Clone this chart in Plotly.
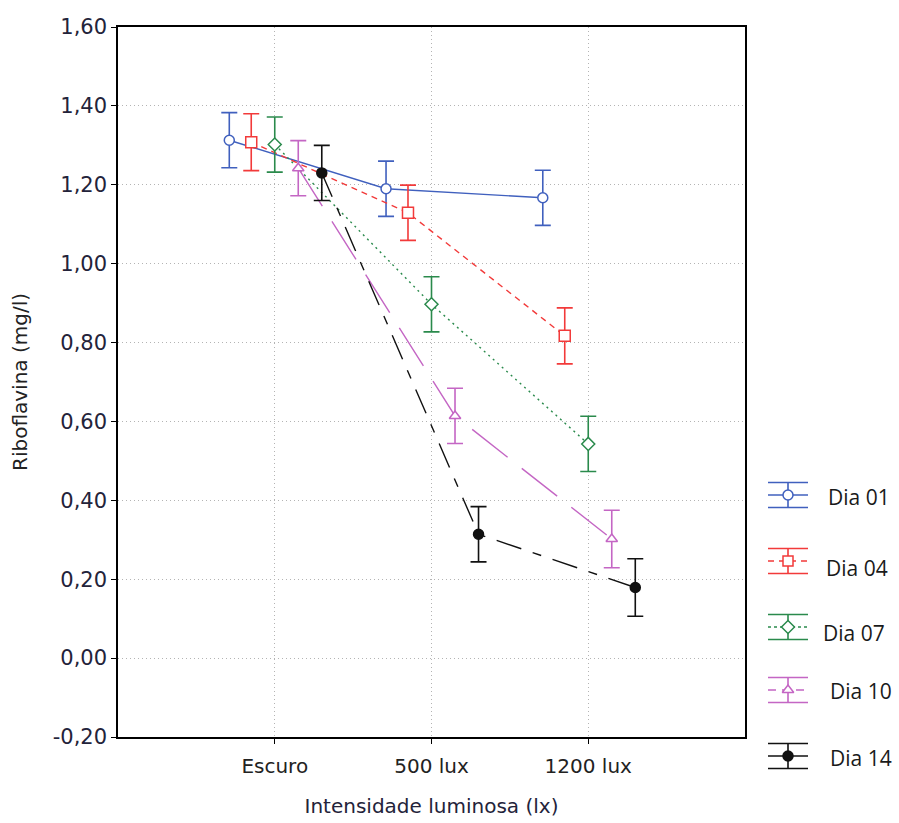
import plotly.graph_objects as go

# Light intensity categories and measured riboflavin (mg/l), mean and half-width of error bar
categories = ["Escuro", "500 lux", "1200 lux"]
series_names = ["Dia 01", "Dia 04", "Dia 07", "Dia 10", "Dia 14"]

dia01 = [1.313, 1.190, 1.167]
dia01_err = [0.070, 0.070, 0.070]
dia04 = [1.308, 1.129, 0.817]
dia04_err = [0.072, 0.070, 0.071]
dia07 = [1.302, 0.897, 0.543]
dia07_err = [0.070, 0.070, 0.070]
dia10 = [1.242, 0.614, 0.302]
dia10_err = [0.070, 0.070, 0.073]
dia14 = [1.230, 0.314, 0.179]
dia14_err = [0.070, 0.070, 0.073]

y_ticks = [-0.20, 0.00, 0.20, 0.40, 0.60, 0.80, 1.00, 1.20, 1.40, 1.60]
y_tick_labels = ["-0,20", "0,00", "0,20", "0,40", "0,60", "0,80", "1,00", "1,20", "1,40", "1,60"]

values = [dia01, dia04, dia07, dia10, dia14]
errors = [dia01_err, dia04_err, dia07_err, dia10_err, dia14_err]

# styling per series: colour, dash pattern, marker symbol, fill, horizontal dodge
colors = ["#4060BE", "#F23A3A", "#2A8A4C", "#C466C4", "#111111"]
dashes = ["solid", "6px,5px", "2px,4px", "45px,18px", "26px,12px,9px,12px"]
legend_dashes = ["solid", "6px,5px", "3px,3px", "8px,6px", "solid"]
symbols = ["circle", "square", "diamond", "triangle-up", "circle"]
fills = ["white", "white", "white", "white", "#111111"]
dodge = [-0.29, -0.15, 0.0, 0.15, 0.30]

W, H = 899, 823
ML, MR, MT, MB = 118, 4, 27, 36
paper_w = W - ML - MR
paper_h = H - MT - MB
plot_right = 745
plot_bottom = 737
x_dom_end = (plot_right - ML) / paper_w
y_dom_start = (H - MB - plot_bottom) / paper_h

text_col = "#23233a"
sans = "DejaVu Sans, Verdana, sans-serif"

fig = go.Figure()

for name, vals, errs, col, dash, sym, fill, dx in zip(series_names, values, errors, colors, dashes, symbols, fills, dodge):
    xs = [i + dx for i in range(len(categories))]
    fig.add_trace(go.Scatter(
        x=xs, y=vals, name=name, mode="lines+markers",
        line=dict(color=col, width=1.4, dash=dash),
        marker=dict(symbol=sym, size=10 if sym != "square" else 11,
                    color=fill, line=dict(color=col, width=1.5)),
        error_y=dict(type="data", array=errs, visible=True, color=col, thickness=1.6, width=8),
        showlegend=False, xaxis="x", yaxis="y",
    ))

# Hand-built legend in pixel space on the right (icons carry the error-bar glyph)
leg_icon_y = [495, 561, 627, 690, 756]
leg_text_pos = [(826, 497), (824, 568), (821, 633), (828, 691), (828, 758)]
for name, col, ldash, sym, fill, yc, (tx, ty) in zip(series_names, colors, legend_dashes, symbols, fills,
                                                   leg_icon_y, leg_text_pos):
    fig.add_trace(go.Scatter(
        x=[768, 808], y=[yc, yc], mode="lines",
        line=dict(color=col, width=1.4, dash=ldash),
        showlegend=False, hoverinfo="skip", xaxis="x2", yaxis="y2",
    ))
    fig.add_trace(go.Scatter(
        x=[788], y=[yc], mode="markers",
        marker=dict(symbol=sym, size=10, color=fill, line=dict(color=col, width=1.5)),
        error_y=dict(type="data", array=[12.5], visible=True, color=col, thickness=1.6, width=20),
        showlegend=False, hoverinfo="skip", xaxis="x2", yaxis="y2",
    ))
    fig.add_annotation(x=tx, y=ty, xref="x2", yref="y2", text=name, showarrow=False,
                       xanchor="left", yanchor="middle",
                       font=dict(family="Open Sans, Lato, sans-serif", size=21, color="#1a1a1a"))

fig.update_layout(
    width=W, height=H,
    margin=dict(l=ML, r=MR, t=MT, b=MB),
    paper_bgcolor="white", plot_bgcolor="white",
    font=dict(family=sans, color=text_col),
    xaxis=dict(
        domain=[0, x_dom_end], range=[-1, 3],
        tickmode="array", tickvals=list(range(len(categories))), ticktext=categories,
        ticks="outside", ticklen=5, tickcolor="black", ticklabelstandoff=5,
        showline=True, linecolor="black", linewidth=1.5, mirror=True,
        showgrid=True, gridcolor="#b4b4b4", griddash="1px,3px", gridwidth=1.2,
        zeroline=False,
        tickfont=dict(family=sans, size=20, color="#222"),
        title=dict(text="Intensidade luminosa (lx)", standoff=22,
                   font=dict(family=sans, size=20, color=text_col)),
        anchor="y",
    ),
    yaxis=dict(
        domain=[y_dom_start, 1], range=[-0.20, 1.60],
        tickmode="array", tickvals=y_ticks, ticktext=y_tick_labels,
        ticks="outside", ticklen=5, tickcolor="black",
        showline=True, linecolor="black", linewidth=1.5, mirror=True,
        showgrid=True, gridcolor="#b4b4b4", griddash="1px,3px", gridwidth=1.2,
        zeroline=False,
        tickfont=dict(family=sans, size=21, color=text_col),
        title=dict(text="Riboflavina (mg/l)", standoff=20, font=dict(family=sans, size=20, color="#222")),
        anchor="x",
    ),
    xaxis2=dict(domain=[(758 - ML) / paper_w, 1], range=[758, W - MR], visible=False, fixedrange=True, anchor="y2"),
    yaxis2=dict(domain=[0, (H - MB - 470) / paper_h], range=[H - MB, 470], visible=False, fixedrange=True, anchor="x2"),
)

fig.write_html("out.html")
